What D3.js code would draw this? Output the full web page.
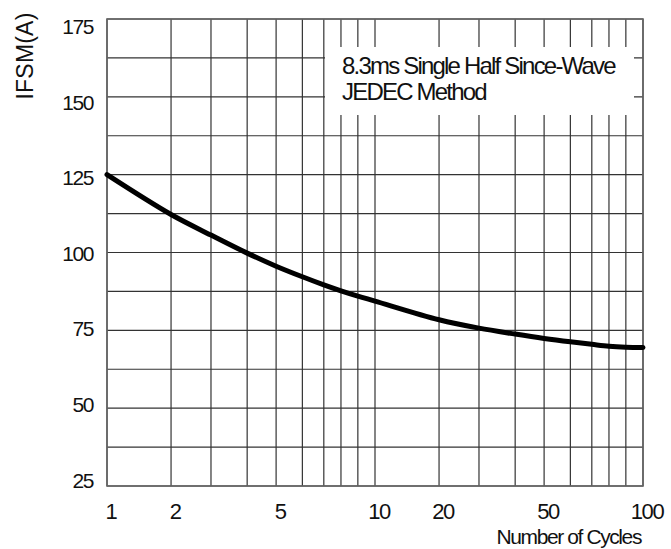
<!DOCTYPE html>
<html>
<head>
<meta charset="utf-8">
<script src="https://cdn.jsdelivr.net/npm/d3@7/dist/d3.min.js"></script>
<style>
  html, body { margin: 0; padding: 0; background: #fff; }
  svg { display: block; }
  text { font-family: "Liberation Sans", Arial, Helvetica, sans-serif; fill: #111; }
</style>
</head>
<body>
<svg id="chart" width="671" height="549"></svg>
<script>
// ---- data ----
const cycles   = [1, 2, 3, 4, 5, 6, 7, 8, 9, 10, 20, 30, 40, 50, 60, 70, 80, 90, 100];
const ifsm     = [125, 112.2, 105.6, 99.8, 95.6, 92.2, 89.6, 87.7, 86.0, 84.4, 78.4, 75.7, 73.8, 72.4, 71.3, 70.5, 69.9, 69.6, 69.5];
const xTickLabels = [1, 2, 5, 10, 20, 50, 100];
const yTickLabels = [25, 50, 75, 100, 125, 150, 175];
const yGridValues = [25, 37.5, 50, 62.5, 75, 87.5, 100, 112.5, 125, 137.5, 150, 162.5, 175];
const xGridValues = [1, 2, 3, 4, 5, 6, 7, 8, 9, 10, 20, 30, 40, 50, 60, 70, 80, 90, 100];
const legendLines = ["8.3ms Single Half Since-Wave", "JEDEC Method"];
const xTitle = "Number of Cycles";
const yTitle = "IFSM(A)";

// ---- layout ----
const L = 107, R = 643, T = 19, B = 486;
// relative spacing of the printed log-paper grid inside one decade (1..10)
const decadeFrac = [0, 0.239, 0.388, 0.523, 0.631, 0.729, 0.809, 0.873, 0.936, 1];

const svg = d3.select("#chart");

// x: the printed semi-log grid, as a polylinear scale over the grid values
const xRange = xGridValues.map(v => {
  const dec = Math.floor(Math.log10(v) + 1e-9);
  const m = Math.round(v / Math.pow(10, dec));
  return L + (R - L) * (dec + decadeFrac[m - 1]) / 2;
});
const x = d3.scaleLinear().domain(xGridValues).range(xRange);
const y = d3.scaleLinear().domain([25, 175]).range([B, T]);
const yLab = d3.scaleLinear().domain([25, 175]).range([480, 26.5]);

// grid
const grid = svg.append("g");
grid.selectAll("line.h").data(yGridValues).join("line")
  .attr("x1", L).attr("x2", R)
  .attr("y1", d => y(d)).attr("y2", d => y(d))
  .attr("stroke", "#333").attr("stroke-width", 1.2);
grid.selectAll("line.v").data(xGridValues).join("line")
  .attr("x1", d => x(d)).attr("x2", d => x(d))
  .attr("y1", T).attr("y2", B)
  .attr("stroke", "#333").attr("stroke-width", 1.2);

// legend box (white, masks grid)
svg.append("rect")
  .attr("x", 325).attr("y", 47).attr("width", 309).attr("height", 68)
  .attr("fill", "#fff");

// border
svg.append("rect")
  .attr("x", L).attr("y", T).attr("width", R - L).attr("height", B - T)
  .attr("fill", "none").attr("stroke", "#666").attr("stroke-width", 1.6);

// curve
const line = d3.line().x((d, i) => x(cycles[i])).y(d => y(d)).curve(d3.curveCatmullRom.alpha(0.5));
svg.append("path").datum(ifsm)
  .attr("d", line)
  .attr("fill", "none").attr("stroke", "#000").attr("stroke-width", 5)
  .attr("stroke-linecap", "round");

// legend text
svg.append("g").selectAll("text").data(legendLines).join("text")
  .attr("x", 342).attr("y", (d, i) => 74 + i * 26)
  .attr("font-size", 24).attr("letter-spacing", -1.8)
  .text(d => d);

// y tick labels
svg.append("g").selectAll("text").data(yTickLabels).join("text")
  .attr("x", 93).attr("y", d => yLab(d))
  .attr("dy", "0.36em")
  .attr("text-anchor", "end")
  .attr("font-size", 21).attr("letter-spacing", -1.4)
  .text(d => d);

// x tick labels
svg.append("g").selectAll("text").data(xTickLabels).join("text")
  .attr("x", d => x(d) + 4).attr("y", 519)
  .attr("text-anchor", "middle")
  .attr("font-size", 22).attr("letter-spacing", -1.4)
  .text(d => d);

// axis titles
svg.append("text")
  .attr("x", 641).attr("y", 544)
  .attr("text-anchor", "end")
  .attr("font-size", 21).attr("letter-spacing", -1.4)
  .text(xTitle);

svg.append("text")
  .attr("transform", "translate(33,56) rotate(-90)")
  .attr("text-anchor", "middle")
  .attr("font-size", 23).attr("letter-spacing", 0.2)
  .text(yTitle);
</script>
</body>
</html>
